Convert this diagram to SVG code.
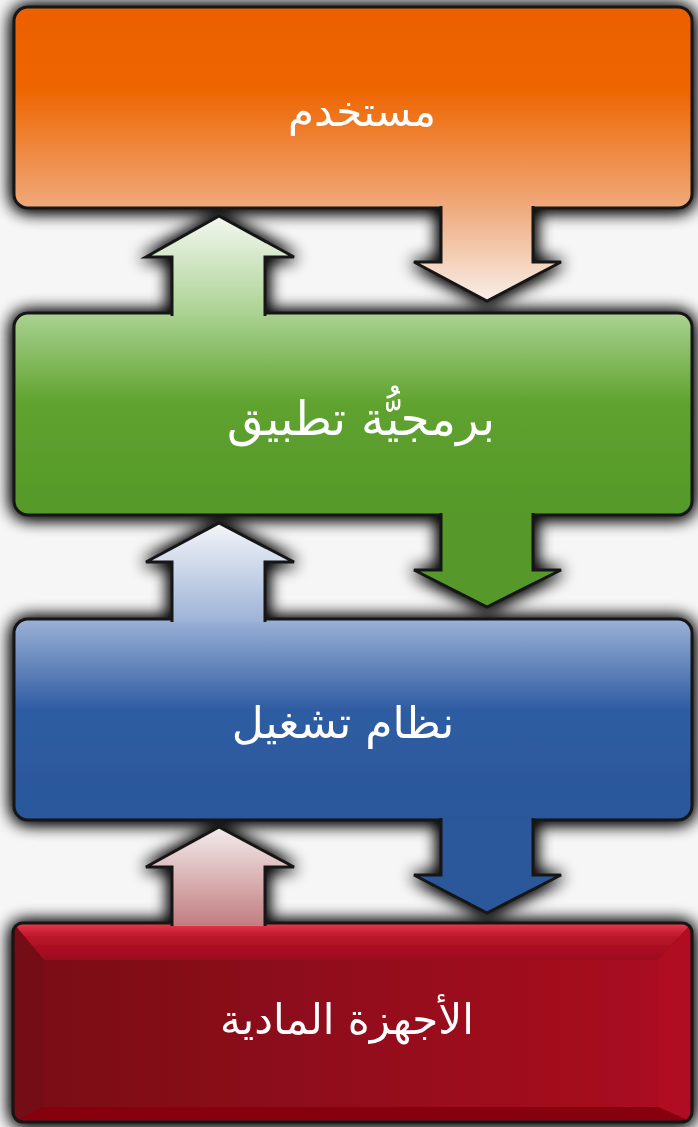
<svg xmlns="http://www.w3.org/2000/svg" width="698" height="1127" viewBox="0 0 698 1127">
<defs>
<style>
.box{stroke:#151515;stroke-width:3}
.arr{stroke:#151515;stroke-width:3;stroke-linejoin:miter}
.lbl{font-family:"DejaVu Sans",sans-serif;fill:#ffffff;text-anchor:middle}
</style>
<filter id="sh" x="-10%" y="-10%" width="120%" height="120%">
<feGaussianBlur in="SourceAlpha" stdDeviation="8.5"/>
<feOffset dx="0" dy="1" result="b"/>
<feFlood flood-color="#000" flood-opacity="1"/>
<feComposite in2="b" operator="in" result="s"/>
<feMerge><feMergeNode in="s"/><feMergeNode in="s"/><feMergeNode in="SourceGraphic"/></feMerge>
</filter>
<linearGradient id="gO" x1="0" y1="0" x2="0" y2="1">
<stop offset="0" stop-color="#ec6000"/><stop offset="0.42" stop-color="#ee6602"/><stop offset="1" stop-color="#f0aa7c"/>
</linearGradient>
<linearGradient id="gOa" gradientUnits="userSpaceOnUse" x1="0" y1="205" x2="0" y2="300">
<stop offset="0" stop-color="#efa87a"/><stop offset="1" stop-color="#f8eee8"/>
</linearGradient>
<linearGradient id="gG" x1="0" y1="0" x2="0" y2="1">
<stop offset="0" stop-color="#aad292"/><stop offset="0.45" stop-color="#5fa22e"/><stop offset="1" stop-color="#55992a"/>
</linearGradient>
<linearGradient id="gGa" gradientUnits="userSpaceOnUse" x1="0" y1="316" x2="0" y2="216">
<stop offset="0" stop-color="#a9d190"/><stop offset="1" stop-color="#f3f7f0"/>
</linearGradient>
<linearGradient id="gB" x1="0" y1="0" x2="0" y2="1">
<stop offset="0" stop-color="#9cb2d7"/><stop offset="0.45" stop-color="#2f5ca2"/><stop offset="1" stop-color="#2b579b"/>
</linearGradient>
<linearGradient id="gBa" gradientUnits="userSpaceOnUse" x1="0" y1="623" x2="0" y2="523">
<stop offset="0" stop-color="#9cb2d7"/><stop offset="1" stop-color="#f3f5f9"/>
</linearGradient>
<linearGradient id="gRa" gradientUnits="userSpaceOnUse" x1="0" y1="926" x2="0" y2="827">
<stop offset="0" stop-color="#c27d80"/><stop offset="1" stop-color="#f3ecec"/>
</linearGradient>
<linearGradient id="gRface" x1="0" y1="0" x2="1" y2="0">
<stop offset="0" stop-color="#7a0a16"/><stop offset="1" stop-color="#aa0a20"/>
</linearGradient>
<linearGradient id="gRtop" x1="0" y1="0" x2="0" y2="1">
<stop offset="0" stop-color="#e83a4c"/><stop offset="0.4" stop-color="#b81428"/><stop offset="1" stop-color="#9a0c1e"/>
</linearGradient>
<clipPath id="cR"><rect x="13" y="923" width="679" height="199" rx="10"/></clipPath>
</defs>
<rect width="698" height="1127" fill="#f6f6f6"/>
<g filter="url(#sh)">
<g id="node-user">
<rect class="box" x="14" y="7" width="678" height="201" rx="14" fill="url(#gO)"/>
<text class="lbl" x="362" y="126" font-size="42">مستخدم</text>
</g>
<g id="node-app">
<rect class="box" x="14" y="313" width="678" height="202" rx="14" fill="url(#gG)"/>
<text class="lbl" x="361" y="435" font-size="47">برمجيُّة تطبيق</text>
</g>
<g id="node-os">
<rect class="box" x="14" y="619" width="678" height="201" rx="14" fill="url(#gB)"/>
<text class="lbl" x="343" y="738" font-size="44">نظام تشغيل</text>
</g>
<g id="node-hw">
<g clip-path="url(#cR)">
<rect x="13" y="923" width="679" height="199" fill="#8a0818"/>
<polygon points="13,923 692,923 658,960 44,960" fill="url(#gRtop)"/>
<polygon points="13,923 44,960 44,1107 13,1122" fill="#750a14"/>
<polygon points="692,923 692,1122 658,1107 658,960" fill="#b00c22"/>
<polygon points="13,1122 44,1107 658,1107 692,1122" fill="#860010"/>
<rect x="44" y="960" width="614" height="147" fill="url(#gRface)"/>
</g>
<rect class="box" x="13" y="923" width="679" height="199" rx="10" fill="none"/>
<text class="lbl" x="347" y="1034" font-size="42">الأجهزة المادية</text>
</g>
<g id="connectors">
<path class="arr" d="M441,206 L441,262 L414,262 L487,301 L561,262 L533,262 L533,206" fill="url(#gOa)"/>
<path class="arr" d="M172,316 L172,257 L146,257 L219,216 L294,257 L265,257 L265,316" fill="url(#gGa)"/>
<path class="arr" d="M441,513 L441,570 L414,570 L487,607 L561,570 L533,570 L533,513" fill="#57992b"/>
<path class="arr" d="M172,622 L172,562 L146,562 L219,523 L294,562 L265,562 L265,622" fill="url(#gBa)"/>
<path class="arr" d="M441,818 L441,875 L414,875 L487,913 L561,875 L533,875 L533,818" fill="#2c599b"/>
<path class="arr" d="M172,926 L172,867 L146,867 L219,827 L294,867 L265,867 L265,926" fill="url(#gRa)"/>
</g>
</g>
</svg>
